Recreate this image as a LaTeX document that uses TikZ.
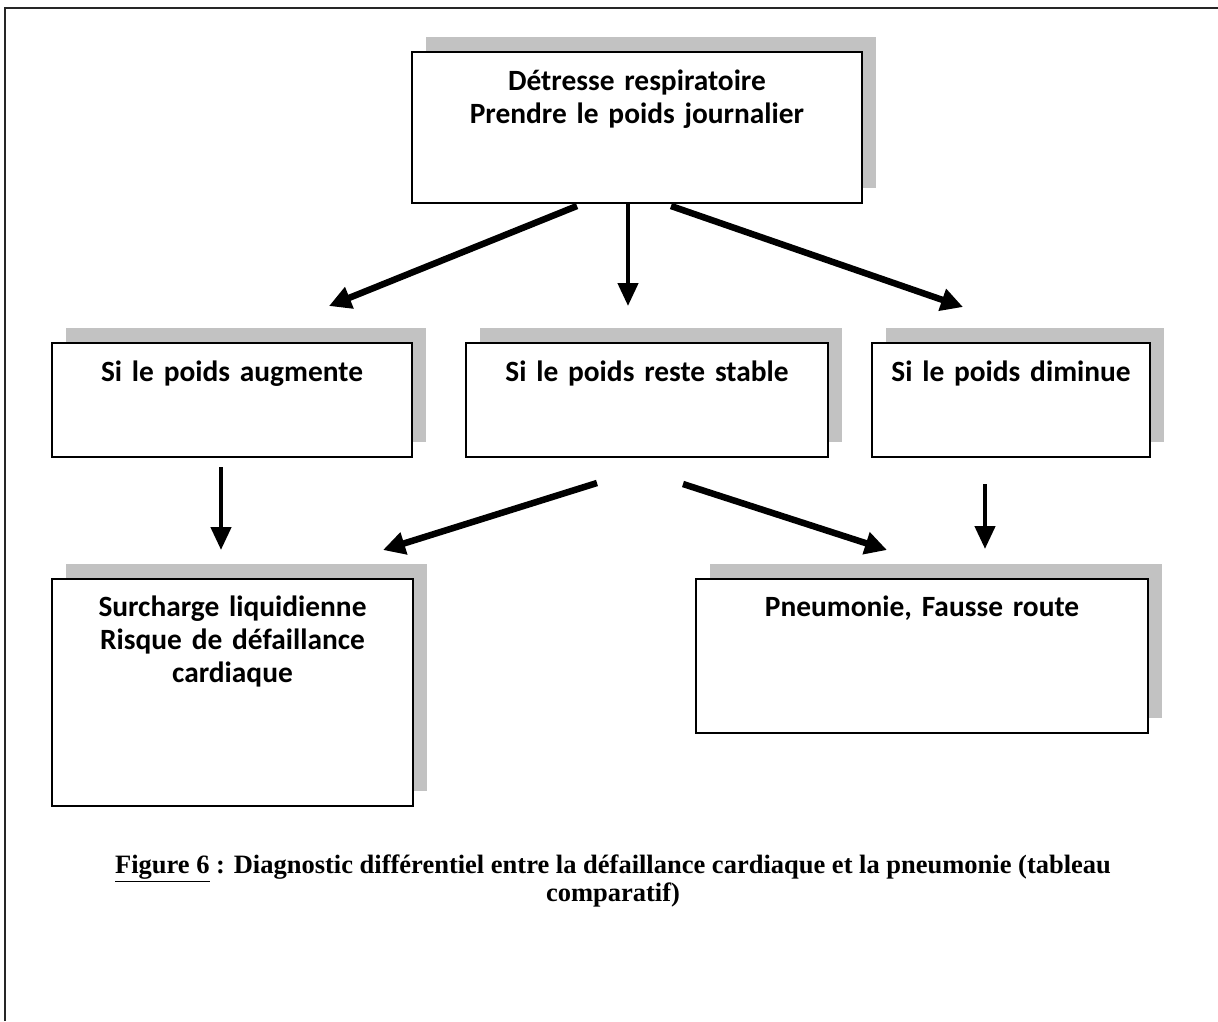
\documentclass[tikz,border=0pt]{standalone}
\usepackage{fontspec}
\setmainfont{Liberation Serif}
\newfontfamily\boxfont{Carlito}
\usetikzlibrary{arrows.meta,calc,shadows}
\definecolor{shadowgray}{RGB}{194,194,194}
\tikzset{
  flowbox/.style={draw=black, line width=2pt, fill=white, inner sep=0pt,
    drop shadow={shadow xshift=14pt, shadow yshift=15pt, fill=shadowgray, opacity=1}},
  boxtext/.style={anchor=base, inner sep=0pt, align=center, text width=#1,
    font=\boxfont\bfseries\fontsize{29.4}{33}\selectfont},
  thickarrow/.style={line width=6.5pt, -{Triangle[length=22pt,width=22pt]}},
  thinarrow/.style={line width=4.5pt, -{Triangle[length=23pt,width=20pt]}},
}
\begin{document}
\begin{tikzpicture}[x=1pt,y=-1pt]
  \useasboundingbox (0,0) rectangle (1218,1021);
  % page frame (top and left edges)
  \draw[line width=2.2pt, black!85] (5,1021) -- (5,8) -- (1218,8);

  % boxes
  \node[flowbox, minimum width=450pt, minimum height=151pt] (top)  at (637,127.5) {};
  \node[flowbox, minimum width=360pt, minimum height=114pt] (augm) at (232,400) {};
  \node[flowbox, minimum width=362pt, minimum height=114pt] (stab) at (647,400) {};
  \node[flowbox, minimum width=278pt, minimum height=114pt] (dimi) at (1011,400) {};
  \node[flowbox, minimum width=361pt, minimum height=227pt] (surc) at (232.5,692.5) {};
  \node[flowbox, minimum width=452pt, minimum height=154pt] (pneu) at (922,656) {};

  % box texts (first baseline 39pt below each box's top edge)
  \node[boxtext=440pt] (ttop)  at ($(top.north)+(0,39)$)  {Détresse respiratoire\\Prendre le poids journalier};
  \node[boxtext=350pt] (taugm) at ($(augm.north)+(0,39)$) {Si le poids augmente};
  \node[boxtext=350pt] (tstab) at ($(stab.north)+(0,39)$) {Si le poids reste stable};
  \node[boxtext=270pt] (tdimi) at ($(dimi.north)+(0,39)$) {Si le poids diminue};
  \node[boxtext=350pt] (tsurc) at ($(surc.north)+(0,38)$) {Surcharge liquidienne\\Risque de défaillance\\cardiaque};
  \node[boxtext=440pt] (tpneu) at ($(pneu.north)+(0,38)$) {Pneumonie, Fausse route};

  % arrows from the first box
  \draw[thickarrow] ($(top.south)+(-60,2)$) -- ($(augm.north)+(97,-36)$);
  \draw[thinarrow]  ($(top.south)+(-9,0)$)  -- ($(stab.north)+(-19,-36)$);
  \draw[thickarrow] ($(top.south)+(34,2)$)  -- ($(dimi.north)+(-48,-35)$);

  % arrows from the second row
  \draw[thinarrow]  ($(augm.south)+(-11,9)$)  -- ($(surc.north)+(-11.5,-28)$);
  \draw[thickarrow] ($(stab.south)+(-50,25)$) -- ($(surc.north)+(150.5,-28)$);
  \draw[thickarrow] ($(stab.south)+(36,26)$)  -- ($(pneu.north)+(-35,-28)$);
  \draw[thinarrow]  ($(dimi.south)+(-26,26)$) -- ($(pneu.north)+(63,-29)$);

  % caption (base anchor sits on the last line)
  \node[anchor=base, inner sep=0pt, align=center,
        font=\bfseries\fontsize{26.5}{24}\selectfont] (cap) at (613,901)
    {\underline{Figure 6} : Diagnostic différentiel entre la défaillance cardiaque et la pneumonie (tableau\\comparatif)};
\end{tikzpicture}
\end{document}
